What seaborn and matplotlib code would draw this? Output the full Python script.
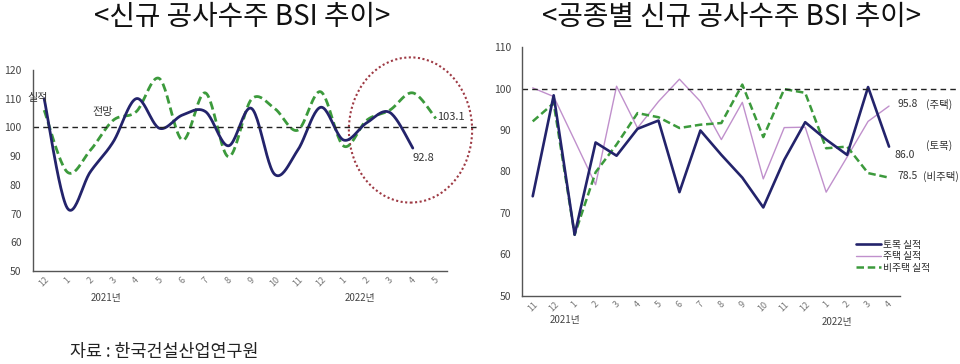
import numpy as np
import pandas as pd
import matplotlib.pyplot as plt
import matplotlib.transforms as mtrans
from matplotlib.patches import Ellipse
from matplotlib.lines import Line2D
import seaborn as sns

# 왼쪽: 신규 공사수주 BSI (2020.12 ~ 2022.5)
mois_gauche = ['12', '1', '2', '3', '4', '5', '6', '7', '8', '9', '10', '11', '12',
               '1', '2', '3', '4', '5']
bsi_reel = [110.0, 72.0, 84.5, 95.0, 110.0, 99.7, 104.3, 105.5, 93.6, 106.6, 83.7,
            92.0, 107.0, 95.6, 101.6, 105.2, 92.8]
bsi_prevu = [106.0, 84.5, 92.0, 102.5, 105.5, 117.0, 95.6, 112.0, 89.8, 109.8, 106.6,
             99.0, 112.4, 93.5, 102.5, 106.0, 112.0, 103.1]

# 오른쪽: 공종별 신규 공사수주 BSI (2020.11 ~ 2022.4)
mois_droite = ['11', '12', '1', '2', '3', '4', '5', '6', '7', '8', '9', '10', '11', '12',
               '1', '2', '3', '4']
genie_civil = [74.0, 98.4, 64.7, 87.0, 83.8, 90.3, 92.3, 75.0, 89.9, 84.0, 78.5, 71.3,
               82.8, 91.9, 87.7, 84.0, 100.4, 86.0]
logement = [100.2, 98.1, 87.5, 76.8, 100.6, 90.5, 96.9, 102.3, 96.9, 87.7, 96.7, 78.2,
            90.6, 90.7, 75.0, 83.5, 92.1, 95.8]
non_logement = [92.1, 96.5, 64.7, 79.8, 86.5, 94.1, 93.1, 90.5, 91.3, 91.7, 101.0, 88.3,
                99.9, 99.0, 85.6, 86.0, 79.6, 78.5]

BLEU = '#23236b'
VERT = '#3c9a3c'
VIOLET = '#c090cc'
GRIS = '#555555'


def lisser(y, n=25):
    # courbe lissée type Excel (Catmull-Rom) entre les points lus
    x = np.arange(len(y), dtype=float)
    y = np.asarray(y, dtype=float)
    px = np.concatenate([[x[0]], x, [x[-1]]])
    py = np.concatenate([[y[0]], y, [y[-1]]])
    xs, ys = [], []
    t = np.linspace(0, 1, n)
    for i in range(1, len(px) - 2):
        for p, out in ((px, xs), (py, ys)):
            p0, p1, p2, p3 = p[i - 1], p[i], p[i + 1], p[i + 2]
            out.extend(0.5 * ((2 * p1) + (-p0 + p2) * t
                              + (2 * p0 - 5 * p1 + 4 * p2 - p3) * t ** 2
                              + (-p0 + 3 * p1 - 3 * p2 + p3) * t ** 3))
    return np.array(xs), np.array(ys)


def habiller_axe(ax, mois, ymin, ymax):
    n = len(mois)
    ax.set_xlim(-0.5, n - 0.5)
    ax.set_ylim(ymin, ymax)
    ax.set_yticks(range(ymin, ymax + 1, 10))
    ax.set_xticks(range(n))
    ax.set_xticklabels(mois, rotation=45, ha='center', fontsize=6.5, color='#777777')
    ax.set_xticks(np.arange(-0.5, n, 1), minor=True)
    ax.tick_params(axis='x', which='major', length=0, pad=3)
    ax.tick_params(axis='x', which='minor', length=3, direction='inout', color=GRIS)
    ax.tick_params(axis='y', length=2, direction='in', labelsize=7.5, labelcolor='#444444',
                   color=GRIS, pad=8)
    for s in ['top', 'right']:
        ax.spines[s].set_visible(False)
    for s in ['left', 'bottom']:
        ax.spines[s].set_color(GRIS)
        ax.spines[s].set_linewidth(1)
    ax.set_xlabel('')
    ax.set_ylabel('')


sns.set_theme(style='white')
plt.rcParams['font.family'] = ['Noto Sans CJK KR', 'DejaVu Sans']

fig = plt.figure(figsize=(9.6, 3.64), dpi=100)
ax1 = fig.add_axes([0.034, 0.255, 0.432, 0.553])
ax2 = fig.add_axes([0.544, 0.188, 0.393, 0.682])

# ---- graphique de gauche
xr, yr = lisser(bsi_reel)
xp, yp = lisser(bsi_prevu)
sns.lineplot(x=xp, y=yp, ax=ax1, color=VERT, lw=2, linestyle=(0, (3, 1.5)), sort=False)
sns.lineplot(x=xr, y=yr, ax=ax1, color=BLEU, lw=2, sort=False)
ax1.plot([-0.5, 18.9], [100, 100], color='#222222', lw=1, ls=(0, (4, 3)), clip_on=False)
habiller_axe(ax1, mois_gauche, 50, 120)

ax1.text(-0.75, 110.2, '실적', fontsize=8, color='#333333', va='center')
ax1.text(2.55, 105.4, '전망', fontsize=8, color='#333333', va='center', ha='center')
ax1.text(16.45, 89.3, '92.8', fontsize=8, color='#333333', va='center', ha='center')
ax1.text(17.05, 103.6, '103.1', fontsize=8, color='#333333', va='center')
ax1.add_patch(Ellipse((15.9, 99.1), 5.35, 50.5, fill=False, ec='#9e3a44', lw=1.5,
                      ls=(0, (1, 1.2)), clip_on=False))
tr1 = mtrans.blended_transform_factory(ax1.transData, ax1.transAxes)
ax1.text(2.7, -0.135, '2021년', fontsize=7, color='#444444', ha='center', va='center',
         transform=tr1)
ax1.text(13.7, -0.135, '2022년', fontsize=7, color='#444444', ha='center', va='center',
         transform=tr1)

# ---- graphique de droite
df = pd.DataFrame({
    'pos': list(range(len(mois_droite))) * 3,
    'BSI': genie_civil + logement + non_logement,
    'serie': ['토목 실적'] * 18 + ['주택 실적'] * 18 + ['비주택 실적'] * 18,
})
styles = {'토목 실적': (BLEU, 1.9, '-'), '주택 실적': (VIOLET, 1, '-'),
          '비주택 실적': (VERT, 1.8, (0, (3, 1.5)))}
for nom in ['주택 실적', '비주택 실적', '토목 실적']:
    c, lw, ls = styles[nom]
    sns.lineplot(data=df[df['serie'] == nom], x='pos', y='BSI', ax=ax2, color=c, lw=lw,
                 linestyle=ls)
ax2.plot([-0.5, 20.4], [100, 100], color='#222222', lw=1, ls=(0, (4, 3)), clip_on=False)
habiller_axe(ax2, mois_droite, 50, 110)

for x, y, t in [(17.4, 96.3, '95.8'), (18.75, 96.3, '(주택)'), (18.75, 86.2, '(토목)'),
                (17.25, 84.0, '86.0'), (17.4, 78.9, '78.5'), (18.6, 78.9, '(비주택)')]:
    ax2.text(x, y, t, fontsize=7.5, color='#333333', va='center', clip_on=False)

poignees = [Line2D([], [], color=styles[n][0], lw=styles[n][1], ls=styles[n][2])
            for n in ['토목 실적', '주택 실적', '비주택 실적']]
ax2.legend(poignees, ['토목 실적', '주택 실적', '비주택 실적'], loc='upper left',
           bbox_to_anchor=(0.885, 0.225), frameon=False, fontsize=7, handlelength=2.6,
           handletextpad=0.2, labelspacing=0.15, borderaxespad=0, borderpad=0)
tr2 = mtrans.blended_transform_factory(ax2.transData, ax2.transAxes)
ax2.text(1.55, -0.1, '2021년', fontsize=7, color='#444444', ha='center', va='center',
         transform=tr2)
ax2.text(14.5, -0.105, '2022년', fontsize=7, color='#444444', ha='center', va='center',
         transform=tr2)

# titres et source
fig.text(0.252, 0.952, '<신규 공사수주 BSI 추이>', fontsize=20, ha='center', va='center',
         color='#111111', fontweight='medium')
fig.text(0.762, 0.952, '<공종별 신규 공사수주 BSI 추이>', fontsize=20, ha='center',
         va='center', color='#111111', fontweight='medium')
fig.text(0.073, 0.033, '자료 : 한국건설산업연구원', fontsize=12.5, ha='left', va='center',
         color='#222222')

fig.savefig('out.png', dpi=100)
